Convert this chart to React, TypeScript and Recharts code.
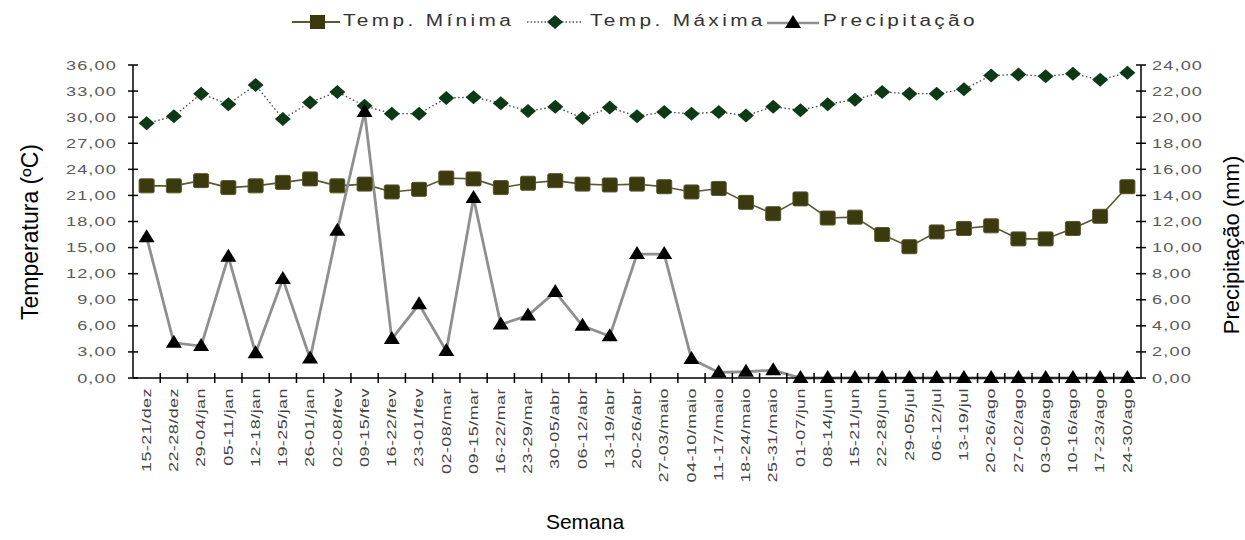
import React from 'react';
import { LineChart, Line, XAxis, YAxis } from 'recharts';

const weeks = [
  '15-21/dez', '22-28/dez', '29-04/jan', '05-11/jan', '12-18/jan', '19-25/jan', '26-01/jan',
  '02-08/fev', '09-15/fev', '16-22/fev', '23-01/fev', '02-08/mar', '09-15/mar', '16-22/mar',
  '23-29/mar', '30-05/abr', '06-12/abr', '13-19/abr', '20-26/abr', '27-03/maio', '04-10/maio',
  '11-17/maio', '18-24/maio', '25-31/maio', '01-07/jun', '08-14/jun', '15-21/jun', '22-28/jun',
  '29-05/jul', '06-12/jul', '13-19/jul', '20-26/ago', '27-02/ago', '03-09/ago', '10-16/ago',
  '17-23/ago', '24-30/ago',
];

const tempMin = [
  22.1, 22.1, 22.7, 21.9, 22.1, 22.5, 22.9, 22.1, 22.3, 21.4, 21.7, 23.0, 22.9, 21.9,
  22.4, 22.7, 22.3, 22.2, 22.3, 22.0, 21.4, 21.8, 20.2, 18.9, 20.6, 18.4, 18.5, 16.5,
  15.1, 16.8, 17.2, 17.5, 16.0, 16.0, 17.2, 18.6, 22.0,
];

const tempMax = [
  29.3, 30.1, 32.7, 31.5, 33.7, 29.8, 31.7, 32.9, 31.3, 30.4, 30.4, 32.2, 32.3, 31.6,
  30.7, 31.2, 29.9, 31.1, 30.1, 30.6, 30.4, 30.6, 30.2, 31.2, 30.8, 31.5, 32.0, 32.9,
  32.7, 32.7, 33.2, 34.8, 34.9, 34.7, 35.0, 34.3, 35.1,
];

const precip = [
  10.8, 2.7, 2.45, 9.3, 1.9, 7.6, 1.5, 11.3, 20.4, 3.0, 5.65, 2.07, 13.8, 4.1,
  4.8, 6.6, 4.0, 3.2, 9.5, 9.5, 1.45, 0.43, 0.48, 0.6, 0, 0, 0, 0,
  0, 0, 0, 0, 0, 0, 0, 0, 0,
];

const tempTicks = [0, 3, 6, 9, 12, 15, 18, 21, 24, 27, 30, 33, 36];
const precTicks = [0, 2, 4, 6, 8, 10, 12, 14, 16, 18, 20, 22, 24];

const data = weeks.map((w, i) => ({
  week: w,
  tmin: tempMin[i],
  tmax: tempMax[i],
  prec: precip[i],
}));

const W = 1245;
const H = 540;
const LEFT_W = 133;
const RIGHT_W = 104;
const X_H = 162;
const TOP = 65;
const PLOT_W = W - LEFT_W - RIGHT_W;
const HALF_STEP = PLOT_W / weeks.length / 2;

const FONT = '"Liberation Sans", Arial, sans-serif';
const fmt = (v: number) => v.toFixed(2).replace('.', ',');

const SQ_FILL = '#3b390e';
const DIA_FILL = '#0d3a16';

const XTick = (props: any) => {
  const { x, y, payload, index } = props;
  const last = index === weeks.length - 1;
  return (
    <g>
      {!last && (
        <line x1={x + HALF_STEP} x2={x + HALF_STEP} y1={y - 5} y2={y + 5} stroke="#000" strokeWidth={1.5} />
      )}
      <g transform={`translate(${x}, ${y + 10}) rotate(-90) scale(1.5, 1)`}>
        <text x={0} y={0} textAnchor="end" dy="0.35em" fontSize={12} letterSpacing={0.3} fill="#444" fontFamily={FONT}>
          {payload.value}
        </text>
      </g>
    </g>
  );
};

const YTickLeft = (props: any) => {
  const { x, y, payload } = props;
  return (
    <g>
      <line x1={x - 5} x2={x + 5} y1={y} y2={y} stroke="#000" strokeWidth={1.5} />
      <g transform={`translate(${x - 16}, ${y}) scale(1.45, 1)`}>
        <text x={0} y={0} dy="0.36em" textAnchor="end" fontSize={12.5} letterSpacing={0.8} fill="#5a5a5a" fontFamily={FONT}>
          {fmt(payload.value)}
        </text>
      </g>
    </g>
  );
};

const YTickRight = (props: any) => {
  const { x, y, payload } = props;
  return (
    <g>
      <line x1={x - 5} x2={x + 5} y1={y} y2={y} stroke="#000" strokeWidth={1.5} />
      <g transform={`translate(${x + 11}, ${y}) scale(1.45, 1)`}>
        <text x={0} y={0} dy="0.36em" textAnchor="start" fontSize={12.5} letterSpacing={0.8} fill="#5a5a5a" fontFamily={FONT}>
          {fmt(payload.value)}
        </text>
      </g>
    </g>
  );
};

const SquareDot = (props: any) => {
  const { cx, cy } = props;
  if (cx == null || cy == null) return <g />;
  return <rect x={cx - 7.5} y={cy - 7} width={15} height={14} rx={1.5} fill={SQ_FILL} stroke="#57552a" strokeWidth={1} />;
};

const DiamondDot = (props: any) => {
  const { cx, cy } = props;
  if (cx == null || cy == null) return <g />;
  return <polygon points={`${cx},${cy - 7} ${cx + 8},${cy} ${cx},${cy + 7} ${cx - 8},${cy}`} fill={DIA_FILL} />;
};

const TriangleDot = (props: any) => {
  const { cx, cy } = props;
  if (cx == null || cy == null) return <g />;
  return <polygon points={`${cx},${cy - 8} ${cx + 8},${cy + 5} ${cx - 8},${cy + 5}`} fill="#000" />;
};

const legendText: React.CSSProperties = {
  position: 'absolute',
  top: 11,
  fontSize: 16,
  letterSpacing: 2.6,
  color: '#333',
  transform: 'scaleX(1.3)',
  transformOrigin: 'left center',
  whiteSpace: 'nowrap',
  lineHeight: '20px',
};

export default function App() {
  return (
    <div style={{ position: 'absolute', left: 0, top: 0, width: W, height: H, background: '#fff', fontFamily: FONT }}>
      <LineChart width={W} height={H} data={data} margin={{ top: TOP, right: 0, bottom: 0, left: 0 }}>
        <XAxis
          dataKey="week"
          interval={0}
          height={X_H}
          padding={{ left: HALF_STEP, right: HALF_STEP }}
          tickSize={0}
          tickMargin={0}
          tickLine={false}
          axisLine={{ stroke: '#000', strokeWidth: 1.5 }}
          tick={<XTick />}
        />
        <YAxis
          yAxisId="left"
          orientation="left"
          width={LEFT_W}
          domain={[0, 36]}
          ticks={tempTicks}
          interval={0}
          tickSize={0}
          tickMargin={0}
          tickLine={false}
          axisLine={{ stroke: '#000', strokeWidth: 1.5 }}
          tick={<YTickLeft />}
        />
        <YAxis
          yAxisId="right"
          orientation="right"
          width={RIGHT_W}
          domain={[0, 24]}
          ticks={precTicks}
          interval={0}
          tickSize={0}
          tickMargin={0}
          tickLine={false}
          axisLine={{ stroke: '#000', strokeWidth: 1.5 }}
          tick={<YTickRight />}
        />
        <Line
          yAxisId="left"
          dataKey="tmin"
          stroke="#5a5830"
          strokeWidth={1.6}
          dot={<SquareDot />}
          activeDot={false}
          isAnimationActive={false}
        />
        <Line
          yAxisId="left"
          dataKey="tmax"
          stroke="#444"
          strokeWidth={1.3}
          strokeDasharray="1.5 2.5"
          dot={<DiamondDot />}
          activeDot={false}
          isAnimationActive={false}
        />
        <Line
          yAxisId="right"
          dataKey="prec"
          stroke="#8f8f8f"
          strokeWidth={2.8}
          dot={<TriangleDot />}
          activeDot={false}
          isAnimationActive={false}
        />
      </LineChart>

      {/* Legend */}
      <svg style={{ position: 'absolute', left: 290, top: 12 }} width={52} height={20}>
        <line x1={2} x2={50} y1={10} y2={10} stroke="#5a5830" strokeWidth={2} />
        <rect x={20} y={3} width={15} height={14} fill={SQ_FILL} />
      </svg>
      <div style={{ ...legendText, left: 343 }}>Temp. Mínima</div>
      <svg style={{ position: 'absolute', left: 525, top: 12 }} width={60} height={20}>
        <line x1={2} x2={58} y1={10} y2={10} stroke="#555" strokeWidth={1.3} strokeDasharray="1.5 2" />
        <polygon points="30,3 38,10 30,17 22,10" fill={DIA_FILL} />
      </svg>
      <div style={{ ...legendText, left: 590 }}>Temp. Máxima</div>
      <svg style={{ position: 'absolute', left: 765, top: 12 }} width={56} height={20}>
        <line x1={2} x2={54} y1={11} y2={11} stroke="#8f8f8f" strokeWidth={2.6} />
        <polygon points="28,3 36,16 20,16" fill="#000" />
      </svg>
      <div style={{ ...legendText, left: 823 }}>Precipitação</div>

      {/* Axis titles */}
      <div
        style={{
          position: 'absolute', left: 30, top: 232, fontSize: 23, color: '#000', whiteSpace: 'nowrap',
          transform: 'translate(-50%, -50%) rotate(-90deg)',
        }}
      >
        Temperatura (ºC)
      </div>
      <div
        style={{
          position: 'absolute', left: 1232, top: 245, fontSize: 22, color: '#000', whiteSpace: 'nowrap',
          transform: 'translate(-50%, -50%) rotate(-90deg)',
        }}
      >
        Precipitação (mm)
      </div>
      <div
        style={{
          position: 'absolute', left: 585, top: 522, fontSize: 21, color: '#000', whiteSpace: 'nowrap',
          transform: 'translate(-50%, -50%)',
        }}
      >
        Semana
      </div>
    </div>
  );
}
